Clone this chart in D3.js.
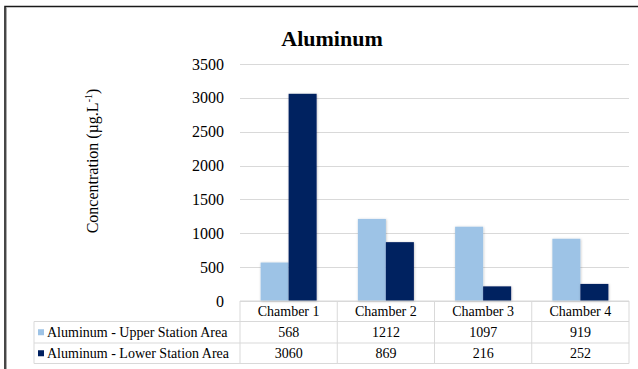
<!DOCTYPE html>
<html><head><meta charset="utf-8">
<script src="https://cdn.jsdelivr.net/npm/d3@7/dist/d3.min.js"></script>
<style>body{margin:0;background:#fff}svg{display:block}text{font-family:"Liberation Serif","Times New Roman",serif}</style>
</head><body><svg id="c" width="638" height="369"></svg>
<script>
const categories = ["Chamber 1","Chamber 2","Chamber 3","Chamber 4"];
const seriesNames = ["Aluminum - Upper Station Area","Aluminum - Lower Station Area"];
const upperValues = [568,1212,1097,919];
const lowerValues = [3060,869,216,252];
const yTicks = [0,500,1000,1500,2000,2500,3000,3500];
const colors = ["#9DC3E6","#002060"];
const title = "Aluminum";

const svg = d3.select("#c");
const defs = svg.append("defs");
const f = defs.append("filter").attr("id","sh").attr("x","-20%").attr("y","-20%").attr("width","140%").attr("height","140%");
f.append("feDropShadow").attr("dx",0.5).attr("dy",0.5).attr("stdDeviation",1.2).attr("flood-color","#000").attr("flood-opacity",0.25);

// frame
svg.append("path").attr("d","M5,369V6.5H638").attr("fill","none").attr("stroke","#1a1a1a").attr("stroke-width",1.6);
svg.append("line").attr("x1",6.5).attr("x2",6.5).attr("y1",7).attr("y2",369).attr("stroke","#aaa").attr("stroke-width",1);

const x0 = 240, x1 = 629, yTop = 64, yBot = 301;
const x = d3.scaleBand().domain(categories).range([x0,x1]).paddingInner(0).paddingOuter(0);
const y = d3.scaleLinear().domain([0,3500]).range([yBot,yTop]);

// gridlines
svg.append("g").selectAll("line").data(yTicks).join("line")
  .attr("x1",x0).attr("x2",x1).attr("y1",d=>Math.round(y(d))+0.5).attr("y2",d=>Math.round(y(d))+0.5)
  .attr("stroke","#d9d9d9").attr("stroke-width",1);

// y axis labels via d3 axis
const yAxis = svg.append("g").attr("transform",`translate(${x0},0)`)
  .call(d3.axisLeft(y).tickValues(yTicks).tickSize(0).tickPadding(16).tickFormat(d3.format("d")));
yAxis.select(".domain").remove();
yAxis.selectAll("text").attr("font-family","Liberation Serif").attr("font-size",16).attr("fill","#000");

// bars
const bw = 28;
const series = [upperValues, lowerValues];
series.forEach((vals,si)=>{
  svg.append("g").attr("filter","url(#sh)").selectAll("rect").data(categories).join("rect")
    .attr("x",(c)=>x(c)+x.bandwidth()/2 - bw + si*bw)
    .attr("width",bw)
    .attr("y",(c,i)=>y(vals[i]))
    .attr("height",(c,i)=>yBot - y(vals[i]))
    .attr("fill",colors[si]);
});

// title
svg.append("text").attr("x",332).attr("y",46).attr("text-anchor","middle")
  .attr("font-size",22).attr("font-weight","bold").text(title);

// y title
const yt = svg.append("text").attr("transform","translate(98,161) rotate(-90)").attr("text-anchor","middle").attr("font-size",16);
yt.append("tspan").text("Concentration (µg.L");
yt.append("tspan").attr("font-size",10).attr("dy",-6).text("-1");
yt.append("tspan").attr("dy",6).text(")");

// data table
const rows = [301, 321.5, 343, 363.5];
const lc = "#d9d9d9";
const tbl = svg.append("g");
tbl.append("line").attr("x1",x0).attr("x2",x1).attr("y1",rows[0]).attr("y2",rows[0]).attr("stroke",lc);
[1,2,3].forEach(r=>tbl.append("line").attr("x1",34).attr("x2",x1).attr("y1",rows[r]).attr("y2",rows[r]).attr("stroke",lc));
const vx = [x0].concat(categories.map(c=>x(c)+x.bandwidth()));
vx.forEach(v=>tbl.append("line").attr("x1",v).attr("x2",v).attr("y1",rows[0]).attr("y2",rows[3]).attr("stroke",lc));
tbl.append("line").attr("x1",34).attr("x2",34).attr("y1",rows[1]).attr("y2",rows[3]).attr("stroke",lc);

tbl.selectAll("text.h").data(categories).join("text").attr("class","h")
  .attr("x",c=>x(c)+x.bandwidth()/2).attr("y",(rows[0]+rows[1])/2+5).attr("text-anchor","middle")
  .attr("font-size",14).text(c=>c);
series.forEach((vals,si)=>{
  const cy = (rows[si+1]+rows[si+2])/2;
  tbl.append("rect").attr("x",38).attr("y",cy-3).attr("width",6).attr("height",6).attr("fill",colors[si]);
  tbl.append("text").attr("x",47).attr("y",cy+5).attr("font-size",14).text(seriesNames[si]);
  tbl.selectAll("text.v"+si).data(categories).join("text").attr("class","v"+si)
    .attr("x",c=>x(c)+x.bandwidth()/2).attr("y",cy+5).attr("text-anchor","middle")
    .attr("font-size",14).text((c,i)=>vals[i]);
});
</script></body></html>
